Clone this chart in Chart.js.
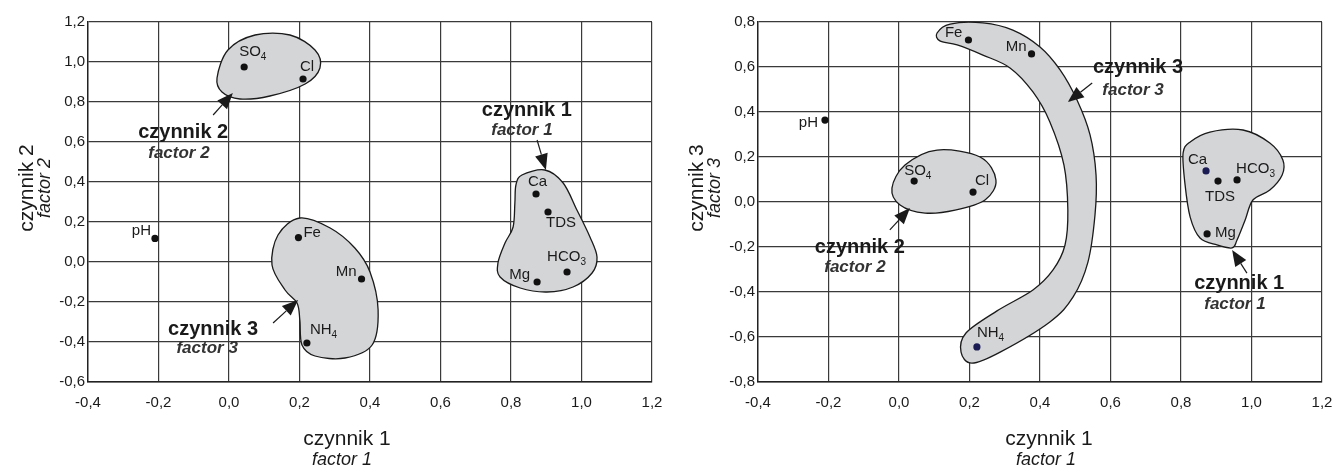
<!DOCTYPE html>
<html lang="pl">
<head>
<meta charset="utf-8">
<script src="https://cdn.jsdelivr.net/npm/chart.js@4.4.1/dist/chart.umd.min.js"></script>
<style>
  html, body { margin: 0; padding: 0; background: #fff; }
  #wrap { position: relative; width: 1335px; height: 468px; }
  #wrap canvas { position: absolute; top: 0; }
</style>
</head>
<body>
<div id="wrap">
  <canvas id="chartLeft" width="667" height="468" style="left:0;width:667px;height:468px"></canvas>
  <canvas id="chartRight" width="668" height="468" style="left:667px;width:668px;height:468px"></canvas>
</div>
<script>
// 変数と因子負荷量
const variables = ["pH", "SO4", "Cl", "Fe", "Mn", "NH4", "Ca", "TDS", "Mg", "HCO3"];
const factor1 = [-0.21, 0.043, 0.21, 0.197, 0.376, 0.221, 0.871, 0.905, 0.874, 0.959];
const factor2 = [0.118, 0.975, 0.915, 0.122, -0.085, -0.405, 0.34, 0.25, -0.1, -0.05];
const factor3 = [0.364, 0.093, 0.044, 0.72, 0.658, -0.644, 0.138, 0.093, -0.142, 0.098];

// 目盛り
const xTicks = [-0.4, -0.2, 0.0, 0.2, 0.4, 0.6, 0.8, 1.0, 1.2];
const yTicksLeft = [-0.6, -0.4, -0.2, 0.0, 0.2, 0.4, 0.6, 0.8, 1.0, 1.2];
const yTicksRight = [-0.8, -0.6, -0.4, -0.2, 0.0, 0.2, 0.4, 0.6, 0.8];

const FONT = '"Liberation Sans", Arial, sans-serif';

// グループの輪郭（データ座標）
const regionsLeft = [
  [[0.831, 0.435], [0.896, 0.46], [0.948, 0.395], [0.987, 0.26], [1.024, 0.125], [1.044, 0.025],
   [1.03, -0.055], [0.976, -0.125], [0.902, -0.15], [0.826, -0.13], [0.769, -0.075], [0.763, -0.005],
   [0.783, 0.095], [0.806, 0.175], [0.811, 0.295], [0.814, 0.385]],
  [[-0.034, 0.92], [-0.003, 1.06], [0.074, 1.135], [0.173, 1.135], [0.244, 1.06], [0.258, 0.97],
   [0.216, 0.89], [0.116, 0.83], [0.031, 0.815], [-0.02, 0.85]],
  [[0.201, 0.22], [0.287, 0.17], [0.357, 0.07], [0.4, -0.05], [0.423, -0.24], [0.406, -0.415],
   [0.329, -0.48], [0.244, -0.47], [0.207, -0.415], [0.201, -0.29], [0.193, -0.205], [0.159, -0.14],
   [0.122, -0.015], [0.139, 0.135]]
];
const regionsRight = [
  [[0.826, 0.267], [0.882, 0.311], [0.976, 0.32], [1.052, 0.262], [1.089, 0.187], [1.087, 0.12],
   [1.052, 0.053], [1.004, 0.009], [0.982, -0.08], [0.959, -0.169], [0.945, -0.204], [0.902, -0.191],
   [0.854, -0.16], [0.826, -0.067], [0.811, 0.084], [0.806, 0.218]],
  [[0.108, 0.231], [0.23, 0.2], [0.275, 0.098], [0.244, 0.009], [0.159, -0.036], [0.074, -0.049],
   [0.003, -0.013], [-0.02, 0.062], [0.017, 0.164]],
  [[0.108, 0.751], [0.145, 0.791], [0.238, 0.796], [0.323, 0.764], [0.4, 0.689], [0.457, 0.587],
   [0.505, 0.453], [0.542, 0.298], [0.559, 0.12], [0.556, -0.058], [0.536, -0.267], [0.494, -0.422],
   [0.428, -0.533], [0.287, -0.667], [0.207, -0.716], [0.176, -0.667], [0.19, -0.582], [0.278, -0.484],
   [0.38, -0.391], [0.437, -0.302], [0.471, -0.191], [0.479, -0.036], [0.468, 0.164], [0.428, 0.356],
   [0.38, 0.489], [0.315, 0.596], [0.238, 0.653], [0.165, 0.698], [0.116, 0.716]]
];

// 矢印と注記（データ座標）
const notesLeft = [
  { n: 1, tail: [0.874, 0.61], tip: [0.899, 0.46], t1: [0.845, 0.76], t2: [0.831, 0.66] },
  { n: 2, tail: [-0.045, 0.735], tip: [0.011, 0.845], t1: [-0.13, 0.65], t2: [-0.142, 0.545] },
  { n: 3, tail: [0.125, -0.305], tip: [0.196, -0.19], t1: [-0.045, -0.335], t2: [-0.062, -0.43] }
];
const notesRight = [
  { n: 1, tail: [0.987, -0.316], tip: [0.945, -0.213], t1: [0.965, -0.36], t2: [0.953, -0.453] },
  { n: 2, tail: [-0.026, -0.124], tip: [0.031, -0.027], t1: [-0.111, -0.2], t2: [-0.125, -0.289] },
  { n: 3, tail: [0.548, 0.529], tip: [0.479, 0.444], t1: [0.678, 0.596], t2: [0.664, 0.498] }
];

// ラベルの位置（点からのずれ px）
const labelPosLeft = {
  pH: [-4, -8, "right"], SO4: [-5, -15, "left"], Cl: [-3, -12, "left"], Fe: [5, -5, "left"],
  Mn: [-5, -7, "right"], NH4: [3, -13, "left"], Ca: [-8, -12, "left"], TDS: [-2, 11, "left"],
  HCO3: [-20, -15, "left"], Mg: [-7, -7, "right"]
};
const labelPosRight = {
  pH: [-7, 3, "right"], SO4: [-10, -10, "left"], Cl: [2, -11, "left"], Fe: [-6, -7, "right"],
  Mn: [-5, -7, "right"], NH4: [0, -14, "left"], Ca: [-18, -11, "left"], TDS: [-13, 16, "left"],
  HCO3: [-1, -11, "left"], Mg: [8, -1, "left"]
};

function fmt(v) {
  return v.toFixed(1).replace(".", ",");
}

// 下付き文字つきの化学式を描く
function drawChem(ctx, str, x, y, align) {
  const parts = str.match(/[A-Za-z]+|\d+/g);
  const big = "15px " + FONT;
  const small = "10px " + FONT;
  let total = 0;
  parts.forEach((p) => {
    ctx.font = /\d/.test(p) ? small : big;
    total += ctx.measureText(p).width;
  });
  let sx = align === "right" ? x - total : align === "center" ? x - total / 2 : x;
  ctx.textAlign = "left";
  ctx.textBaseline = "middle";
  parts.forEach((p) => {
    const sub = /\d/.test(p);
    ctx.font = sub ? small : big;
    ctx.fillText(p, sx, sub ? y + 5 : y);
    sx += ctx.measureText(p).width;
  });
}

function smoothClosed(ctx, pts) {
  const n = pts.length;
  ctx.moveTo(pts[0][0], pts[0][1]);
  for (let i = 0; i < n; i++) {
    const p0 = pts[(i - 1 + n) % n], p1 = pts[i], p2 = pts[(i + 1) % n], p3 = pts[(i + 2) % n];
    ctx.bezierCurveTo(
      p1[0] + (p2[0] - p0[0]) / 6, p1[1] + (p2[1] - p0[1]) / 6,
      p2[0] - (p3[0] - p1[0]) / 6, p2[1] - (p3[1] - p1[1]) / 6,
      p2[0], p2[1]
    );
  }
  ctx.closePath();
}

function makeDecor(cfg) {
  return {
    id: "decor",
    beforeDatasetsDraw(chart) {
      const { ctx, scales } = chart;
      const toPx = (p) => [scales.x.getPixelForValue(p[0]), scales.y.getPixelForValue(p[1])];
      ctx.save();
      cfg.regions.forEach((r) => {
        ctx.beginPath();
        smoothClosed(ctx, r.map(toPx));
        ctx.fillStyle = "#d4d5d7";
        ctx.fill();
        ctx.lineWidth = 1.3;
        ctx.strokeStyle = "#1a1a1a";
        ctx.stroke();
      });
      ctx.restore();
    },
    afterDatasetsDraw(chart) {
      const { ctx, scales } = chart;
      const toPx = (p) => [scales.x.getPixelForValue(p[0]), scales.y.getPixelForValue(p[1])];
      ctx.save();
      ctx.fillStyle = "#1a1a1a";
      // 点のラベル
      variables.forEach((name, i) => {
        const pos = cfg.labelPos[name];
        const px = scales.x.getPixelForValue(factor1[i]);
        const py = scales.y.getPixelForValue(cfg.yData[i]);
        drawChem(ctx, name, px + pos[0], py + pos[1], pos[2]);
      });
      // 矢印と注記
      cfg.notes.forEach((a) => {
        const [x0, y0] = toPx(a.tail);
        const [x1, y1] = toPx(a.tip);
        const ang = Math.atan2(y1 - y0, x1 - x0);
        const len = 16, half = 6.5;
        const bx = x1 - len * Math.cos(ang), by = y1 - len * Math.sin(ang);
        ctx.strokeStyle = "#1a1a1a";
        ctx.lineWidth = 1.2;
        ctx.beginPath();
        ctx.moveTo(x0, y0);
        ctx.lineTo(bx, by);
        ctx.stroke();
        ctx.beginPath();
        ctx.moveTo(x1, y1);
        ctx.lineTo(bx + half * Math.sin(ang), by - half * Math.cos(ang));
        ctx.lineTo(bx - half * Math.sin(ang), by + half * Math.cos(ang));
        ctx.closePath();
        ctx.fill();

        const [tx1, ty1] = toPx(a.t1);
        const [tx2, ty2] = toPx(a.t2);
        ctx.textAlign = "center";
        ctx.textBaseline = "middle";
        ctx.fillStyle = "#1a1a1a";
        ctx.font = "bold 20px " + FONT;
        ctx.fillText("czynnik " + a.n, tx1, ty1);
        ctx.fillStyle = "#333";
        ctx.font = "italic bold 17px " + FONT;
        ctx.fillText("factor " + a.n, tx2, ty2);
        ctx.fillStyle = "#1a1a1a";
      });
      ctx.restore();
    },
    afterDraw(chart) {
      const { ctx } = chart;
      ctx.save();
      ctx.fillStyle = "#1a1a1a";
      ctx.textAlign = "center";
      ctx.textBaseline = "middle";
      // x軸タイトル
      ctx.font = "21px " + FONT;
      ctx.fillText("czynnik 1", cfg.xTitle[0], 439);
      ctx.font = "italic 18px " + FONT;
      ctx.fillText("factor 1", cfg.xTitle[1], 460);
      // y軸タイトル（ベースライン位置で揃える）
      ctx.translate(cfg.yTitle[0], 188);
      ctx.rotate(-Math.PI / 2);
      ctx.textBaseline = "alphabetic";
      ctx.font = "21px " + FONT;
      ctx.fillText(cfg.yName[0], 0, 0);
      ctx.font = "italic 18px " + FONT;
      ctx.fillText(cfg.yName[1], 0, cfg.yTitle[1] - cfg.yTitle[0]);
      ctx.restore();
    }
  };
}

function scaleOpts(ticks, min, max, fitKey, fitVal, pad) {
  return {
    type: "linear",
    min: min,
    max: max,
    afterBuildTicks: (scale) => {
      scale.ticks = ticks.map((v) => ({ value: v }));
    },
    afterFit: (scale) => {
      scale[fitKey] = fitVal;
      scale.paddingLeft = 0;
      scale.paddingRight = 0;
      scale.paddingTop = 0;
      scale.paddingBottom = 0;
    },
    grid: { color: "#3a3a3a", lineWidth: 1.2, drawTicks: false },
    border: { color: "#222", width: 1.4 },
    ticks: {
      color: "#1a1a1a",
      padding: pad,
      font: { family: FONT, size: 15 },
      callback: (v) => fmt(v)
    }
  };
}

function renderChart(canvasId, yData, yTicks, yMin, yMax, leftWidth, rightPad, decor, dotColors) {
  const ctx = document.getElementById(canvasId).getContext("2d");
  return new Chart(ctx, {
    type: "scatter",
    data: {
      datasets: [
        {
          data: variables.map((v, i) => ({ x: factor1[i], y: yData[i] })),
          pointRadius: 3.6,
          pointBorderWidth: 0,
          pointBackgroundColor: dotColors
        }
      ]
    },
    options: {
      responsive: false,
      animation: false,
      events: [],
      layout: { padding: { top: 22, right: rightPad, left: 0, bottom: 0 } },
      plugins: { legend: { display: false }, tooltip: { enabled: false } },
      scales: {
        x: scaleOpts(xTicks, -0.4, 1.2, "height", 86, 12),
        y: scaleOpts(yTicks, yMin, yMax, "width", leftWidth, 3)
      }
    },
    plugins: [makeDecor(decor)]
  });
}

renderChart("chartLeft", factor2, yTicksLeft, -0.6, 1.2, 88, 15, {
  regions: regionsLeft,
  notes: notesLeft,
  labelPos: labelPosLeft,
  yData: factor2,
  xTitle: [347, 342],
  yTitle: [33, 50],
  yName: ["czynnik 2", "factor 2"]
}, "#111");

renderChart("chartRight", factor3, yTicksRight, -0.8, 0.8, 91, 13, {
  regions: regionsRight,
  notes: notesRight,
  labelPos: labelPosRight,
  yData: factor3,
  xTitle: [382, 379],
  yTitle: [36, 53],
  yName: ["czynnik 3", "factor 3"]
}, variables.map((v) => (v === "Ca" || v === "NH4" ? "#1c1c55" : "#111")));
</script>
</body>
</html>
